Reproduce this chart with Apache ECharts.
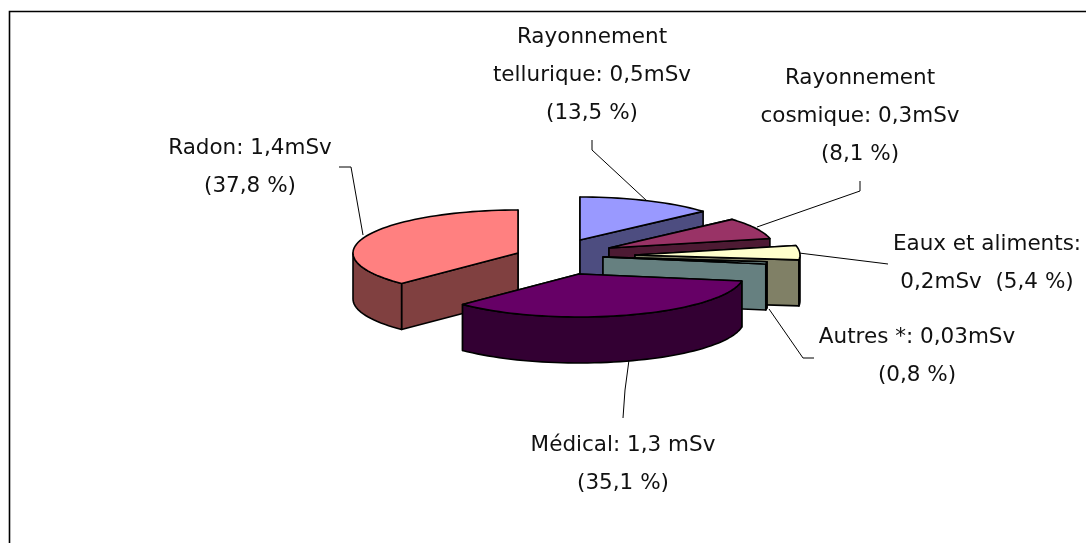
<!DOCTYPE html>
<html>
<head>
<meta charset="utf-8">
<style>
  html, body { margin: 0; padding: 0; background: #fff; }
  #chart { width: 1086px; height: 543px; }
</style>
<script src="https://cdn.jsdelivr.net/npm/echarts@6/dist/echarts.min.js"></script>
</head>
<body>
<div id="chart"></div>
<script>
// slices, clockwise from 12 o'clock
const categories = ['Rayonnement tellurique', 'Rayonnement cosmique', 'Eaux et aliments', 'Autres *', 'Médical', 'Radon'];
const doses = [0.5, 0.3, 0.2, 0.03, 1.3, 1.4];
const labels = [
  'Rayonnement\ntellurique: 0,5mSv\n(13,5 %)',
  'Rayonnement\ncosmique: 0,3mSv\n(8,1 %)',
  'Eaux et aliments:\n0,2mSv  (5,4 %)',
  'Autres *: 0,03mSv\n(0,8 %)',
  'Médical: 1,3 mSv\n(35,1 %)',
  'Radon: 1,4mSv\n(37,8 %)'
];

// look of the 3d pie
const RX = 165;
const RY = 43;
const DEPTH = 46;
const FONT = '21.5px "DejaVu Sans"';
const LINE_HEIGHT = 38;
const sliceLook = [
  { apex: [580, 240], top: '#9999ff', side: '#4d4d80', order: 0, label: [592, 75], leader: [[592, 140], [592, 150], [647, 201]] },
  { apex: [609, 248], top: '#993366', side: '#4d1a33', order: 1, label: [860, 116], leader: [[860, 181], [860, 191], [757, 227]] },
  { apex: [635, 255], top: '#ffffcc', side: '#808066', order: 2, label: [987, 263], leader: [[799, 253], [880, 263], [888, 264]] },
  { apex: [603, 257], top: '#ccffff', side: '#668080', order: 3, label: [917, 356], leader: [[769, 309], [803, 358], [814, 358]] },
  { apex: [579, 274], top: '#660066', side: '#330033', order: 5, label: [623, 464], leader: [[629, 360], [625, 390], [623, 418]] },
  { apex: [518, 253], top: '#ff8080', side: '#804040', order: 4, label: [250, 167], leader: [[339, 167], [351, 167], [363, 235]] }
];

const total = doses.reduce((a, b) => a + b, 0);

function rimPoint(apex, angle, drop) {
  return [apex[0] + RX * Math.sin(angle), apex[1] - RY * Math.cos(angle) + drop];
}

function arc(apex, from, to, drop) {
  const pts = [];
  const steps = Math.max(2, Math.ceil(Math.abs(to - from) / 0.04));
  for (let k = 0; k <= steps; k++) {
    pts.push(rimPoint(apex, from + (to - from) * k / steps, drop));
  }
  return pts;
}

function face(points, fill, z2) {
  return {
    type: 'polygon',
    z2: z2,
    shape: { points: points },
    style: { fill: fill, stroke: '#000', lineWidth: 1.6, lineJoin: 'round' }
  };
}

function renderSlice(params, api) {
  const i = params.dataIndex;
  const look = sliceLook[i];
  let before = 0;
  for (let k = 0; k < i; k++) before += doses[k];
  const a0 = before / total * Math.PI * 2;
  const a1 = (before + api.value(1)) / total * Math.PI * 2;
  const apex = look.apex;
  const base = [apex[0], apex[1] + DEPTH];
  const z = look.order * 10;
  const children = [];

  // cut faces, the one further back first
  const cuts = [a0, a1].sort((p, q) => Math.cos(q) - Math.cos(p));
  cuts.forEach((a, n) => {
    children.push(face([apex, rimPoint(apex, a, 0), rimPoint(apex, a, DEPTH), base], look.side, z + n));
  });

  // outer wall, only the part turned to the viewer
  const w0 = Math.max(a0, Math.PI / 2);
  const w1 = Math.min(a1, Math.PI * 1.5);
  if (w1 > w0) {
    children.push(face(arc(apex, w0, w1, 0).concat(arc(apex, w1, w0, DEPTH)), look.side, z + 2));
  }

  children.push(face([apex].concat(arc(apex, a0, a1, 0)), look.top, z + 3));

  children.push({
    type: 'polyline',
    z2: 100,
    shape: { points: look.leader },
    style: { fill: null, stroke: '#000', lineWidth: 1 }
  });
  children.push({
    type: 'text',
    z2: 101,
    style: {
      text: labels[i],
      x: look.label[0],
      y: look.label[1],
      font: FONT,
      fill: '#111',
      align: 'center',
      verticalAlign: 'middle',
      lineHeight: LINE_HEIGHT
    }
  });
  return { type: 'group', children: children };
}

const chart = echarts.init(document.getElementById('chart'));
chart.setOption({
  animation: false,
  backgroundColor: '#fff',
  graphic: [{
    type: 'polyline',
    silent: true,
    shape: { points: [[9.5, 543], [9.5, 11.5], [1086, 11.5]] },
    style: { fill: null, stroke: '#000', lineWidth: 1.6 }
  }],
  series: [{
    type: 'custom',
    coordinateSystem: 'none',
    silent: true,
    renderItem: renderSlice,
    data: categories.map((name, i) => ({ name: name, value: [i, doses[i]] }))
  }]
});
</script>
</body>
</html>
